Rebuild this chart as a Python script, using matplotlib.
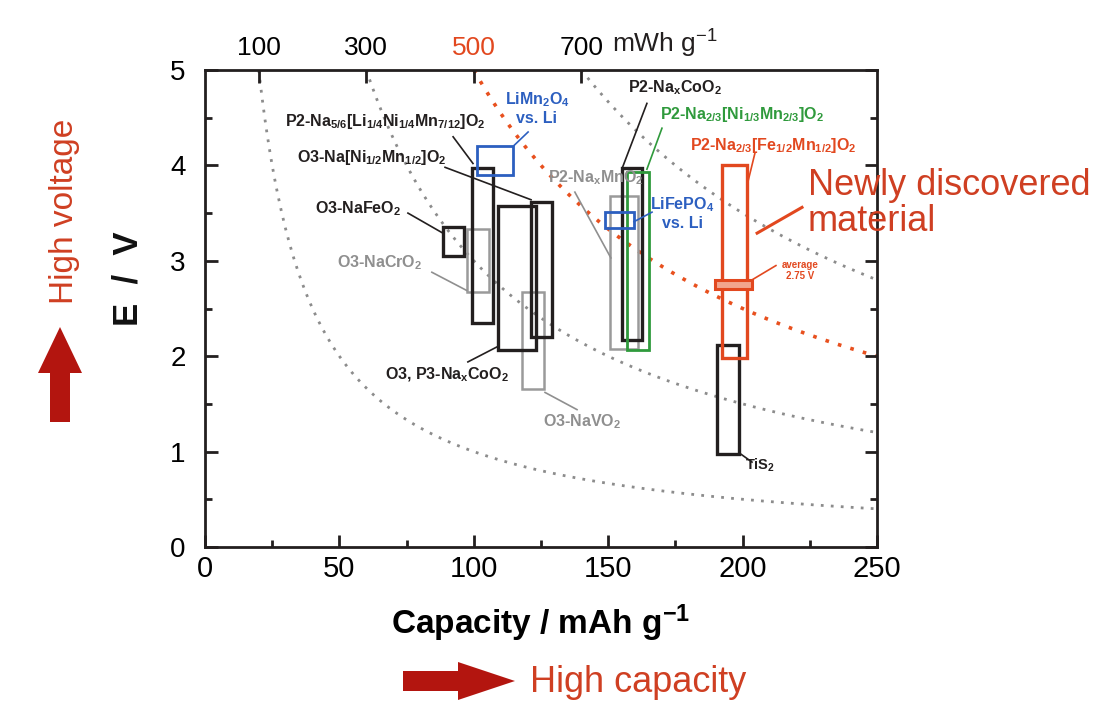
import matplotlib
matplotlib.use('Agg')
import matplotlib.pyplot as plt
from matplotlib.patches import Rectangle, Polygon
from matplotlib.ticker import MultipleLocator
import numpy as np

plt.rcParams['font.family'] = ['Liberation Sans', 'DejaVu Sans']
plt.rcParams['mathtext.fontset'] = 'custom'
plt.rcParams['mathtext.rm'] = 'Liberation Sans'
plt.rcParams['mathtext.it'] = 'Liberation Sans:italic'
plt.rcParams['mathtext.bf'] = 'Liberation Sans:bold'

# ---------------- data ----------------
energy_levels = [100, 300, 500, 700]          # mWh/g iso-energy curves
energy_labels = ['100', '300', '500', '700']
x_ticks = [0, 50, 100, 150, 200, 250]
y_ticks = [0, 1, 2, 3, 4, 5]

mat_names = ['O3-NaCrO2', 'O3-NaVO2', 'P2-NaxMnO2', 'O3-NaFeO2',
             'P2-Na5/6[Li1/4Ni1/4Mn7/12]O2', 'O3, P3-NaxCoO2', 'O3-Na[Ni1/2Mn1/2]O2',
             'P2-NaxCoO2', 'P2-Na2/3[Ni1/3Mn2/3]O2', 'LiMn2O4 vs. Li',
             'LiFePO4 vs. Li', 'TiS2', 'P2-Na2/3[Fe1/2Mn1/2]O2']
cap_lo = [97.5, 118.0, 150.7, 88.5, 99.3, 109.0, 121.2, 155.0, 157.0, 101.3, 148.8, 190.4, 192.2]
cap_hi = [105.5, 126.0, 161.0, 96.5, 107.0, 123.0, 129.0, 162.5, 165.0, 114.7, 159.6, 198.8, 201.5]
v_lo = [2.67, 1.66, 2.08, 3.05, 2.35, 2.07, 2.20, 2.17, 2.07, 3.90, 3.34, 0.98, 1.98]
v_hi = [3.33, 2.67, 3.68, 3.35, 3.97, 3.57, 3.62, 3.97, 3.93, 4.20, 3.51, 2.12, 4.00]
mat_kind = ['gray', 'gray', 'gray', 'black', 'black', 'black', 'black',
            'black', 'green', 'blue', 'blue', 'black', 'red']

avg_voltage = 2.75
avg_cap = [189.7, 203.4]

# ---------------- style ----------------
kind_color = {'gray': '#9a9a9a', 'black': '#231f1f', 'green': '#2f9a3c',
              'blue': '#2c5fc0', 'red': '#e2481f'}
kind_lw = {'gray': 1.8, 'black': 2.4, 'green': 2.0, 'blue': 2.0, 'red': 2.4}
RED = '#e2481f'
DARKRED = '#b3150f'
TXTRED = '#cf3f22'

fig = plt.figure(figsize=(11.14, 7.04), dpi=100)
W, H = 1114, 704
L, R, T, B = 205, 877, 70, 547
ax = fig.add_axes([L / W, 1 - B / H, (R - L) / W, (B - T) / H])
ax.set_xlim(0, 250)
ax.set_ylim(0, 5)

# iso-energy curves
for e in energy_levels:
    c = np.linspace(e / 5.0, 250, 300)
    if e == 500:
        ax.plot(c, e / c, color='#e8501e', lw=2.6, ls=(0, (1, 2.6)), zorder=1)
    else:
        ax.plot(c, e / c, color='#8c8c8c', lw=2.0, ls=(0, (1, 2.6)), zorder=1)

# material boxes
order = sorted(range(len(mat_names)), key=lambda i: ['gray', 'black', 'green', 'blue', 'red'].index(mat_kind[i]))
for i in order:
    k = mat_kind[i]
    ax.add_patch(Rectangle((cap_lo[i], v_lo[i]), cap_hi[i] - cap_lo[i], v_hi[i] - v_lo[i],
                           fill=False, ec=kind_color[k], lw=kind_lw[k], zorder=3))

# average bar
ax.add_patch(Rectangle((avg_cap[0], avg_voltage - 0.05), avg_cap[1] - avg_cap[0], 0.1,
                       fc='#f2a58e', ec=RED, lw=2.2, zorder=4))

# ---------------- labels & leaders ----------------
def lab(txt, xt, yt, color, x0, y0, x1, y1, size=11.5, ha='left', lcol=None, lw=1.2, ma='left',
        weight='bold'):
    ax.text(xt, yt, txt, color=color, fontsize=size, ha=ha, va='center', zorder=5,
            multialignment=ma, clip_on=False, fontweight=weight)
    ax.plot([x0, x1], [y0, y1], color=lcol or color, lw=lw, zorder=5, clip_on=False)

BLK = '#231f1f'
GRY = '#8f8f8f'
lab(r'P2-Na$_\mathbf{5/6}$[Li$_\mathbf{1/4}$Ni$_\mathbf{1/4}$Mn$_\mathbf{7/12}$]O$_\mathbf{2}$', 29.8, 4.465, BLK, 92.3, 4.30, 99.7, 4.02)
lab(r'O3-Na[Ni$_\mathbf{1/2}$Mn$_\mathbf{1/2}$]O$_\mathbf{2}$', 34.2, 4.08, BLK, 89.3, 3.98, 121.3, 3.64)
lab(r'O3-NaFeO$_\mathbf{2}$', 40.9, 3.55, BLK, 75.5, 3.50, 88.5, 3.29)
lab(r'O3-NaCrO$_\mathbf{2}$', 49.1, 2.98, GRY, 84.4, 2.88, 97.3, 2.69)
lab(r'O3, P3-Na$_\mathbf{x}$CoO$_\mathbf{2}$', 67.0, 1.80, BLK, 97.8, 1.94, 108.8, 2.10)
lab(r'O3-NaVO$_\mathbf{2}$', 125.7, 1.31, GRY, 126.5, 1.62, 138.4, 1.44)
lab('LiMn$_\\mathbf{2}$O$_\\mathbf{4}$\nvs. Li', 123.5, 4.60, kind_color['blue'], 115.0, 4.21, 120.2, 4.35, ha='center', ma='center')
lab(r'P2-Na$_\mathbf{x}$MnO$_\mathbf{2}$', 127.6, 3.87, GRY, 137.6, 3.72, 151.0, 3.03)
lab(r'P2-Na$_\mathbf{x}$CoO$_\mathbf{2}$', 157.4, 4.81, BLK, 164.4, 4.65, 155.2, 3.97)
lab(r'P2-Na$_\mathbf{2/3}$[Ni$_\mathbf{1/3}$Mn$_\mathbf{2/3}$]O$_\mathbf{2}$', 169.3, 4.53, kind_color['green'], 170.0, 4.39, 164.4, 3.96)
lab('LiFePO$_\\mathbf{4}$\nvs. Li', 177.5, 3.50, kind_color['blue'], 159.6, 3.41, 166.3, 3.51, ha='center', ma='center')
lab(r'P2-Na$_\mathbf{2/3}$[Fe$_\mathbf{1/2}$Mn$_\mathbf{1/2}$]O$_\mathbf{2}$', 180.4, 4.21, RED, 204.6, 4.13, 202.0, 3.83)
lab('average\n2.75 V', 221.4, 2.90, RED, 203.5, 2.80, 212.4, 2.95, size=7, ha='center', ma='center')
lab(r'TiS$_\mathbf{2}$', 200.9, 0.86, BLK, 198.8, 0.985, 203.5, 0.89, size=10.5)
ax.text(224.3, 3.60, 'Newly discovered\nmaterial', color=TXTRED, fontsize=26, ha='left',
        va='center', linespacing=1.05, clip_on=False)
ax.plot([205.4, 222.1], [3.29, 3.56], color=RED, lw=2.2, clip_on=False)

# ---------------- axes styling ----------------
for s in ax.spines.values():
    s.set_linewidth(2.0)
    s.set_color('#231f1f')
ax.set_xticks(x_ticks)
ax.set_yticks(y_ticks)
ax.xaxis.set_minor_locator(MultipleLocator(25))
ax.yaxis.set_minor_locator(MultipleLocator(0.5))
ax.tick_params(which='both', direction='in', top=False, right=True, width=2.0, color='#231f1f')
ax.tick_params(which='major', length=9)
ax.tick_params(which='minor', length=5)
ax.tick_params(axis='x', labelsize=21, pad=6)
ax.tick_params(axis='y', labelsize=20, pad=14)

axt = ax.twiny()
axt.set_xlim(ax.get_xlim())
axt.set_xticks([e / 5.0 for e in energy_levels])
axt.set_xticklabels(energy_labels)
axt.tick_params(direction='in', length=9, width=2.0, labelsize=19, pad=7, color='#231f1f')
for s in axt.spines.values():
    s.set_visible(False)
for t, lbl in zip(axt.xaxis.get_major_ticks(), energy_labels):
    if lbl == '500':
        t.label2.set_color(RED)
        t.tick2line.set_color(RED)
axt.annotate(r'mWh g$^{-1}$', xy=(energy_levels[-1] / 5.0, 1.0), xycoords=axt.get_xaxis_transform(),
             xytext=(22, 7), textcoords='offset points',
             fontsize=19, ha='left', va='bottom', color='#231f1f')

ax.set_xlabel(r'Capacity / mAh g$^{\mathbf{-1}}$', fontsize=24, fontweight='bold', labelpad=14)
fig.text(128 / W, 1 - 279 / H, 'E  /  V', rotation=90, fontsize=25, fontweight='bold',
         ha='center', va='center', color='#111111')

# side annotations
fig.text(64 / W, 1 - 211 / H, 'High voltage', rotation=90, fontsize=24, color=TXTRED,
         ha='center', va='center')
fig.text(530 / W, 1 - 683 / H, 'High capacity', fontsize=26, color=TXTRED,
         ha='left', va='center')

def fpoly(pts):
    return Polygon([(x / W, 1 - y / H) for x, y in pts], closed=True, transform=fig.transFigure,
                   fc=DARKRED, ec='none')

fig.add_artist(fpoly([(60, 327), (82, 373), (70, 373), (70, 422), (50, 422), (50, 373), (38, 373)]))
fig.add_artist(fpoly([(515, 681), (458, 662), (458, 671), (403, 671), (403, 691), (458, 691), (458, 700)]))

fig.savefig('out.png', dpi=100)
